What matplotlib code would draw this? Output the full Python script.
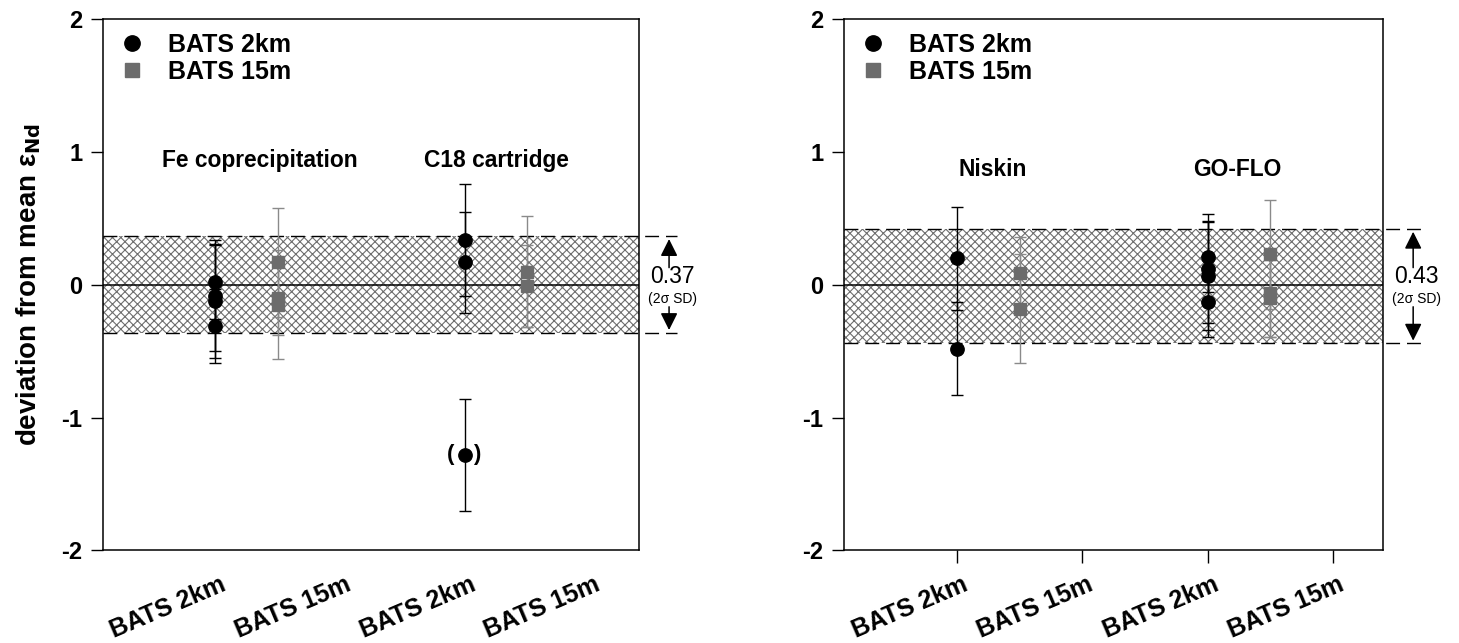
import numpy as np
import matplotlib
matplotlib.use("Agg")
import matplotlib.pyplot as plt
import matplotlib.transforms as mtransforms

plt.rcParams['font.family'] = ['Liberation Sans', 'DejaVu Sans']
plt.rcParams['hatch.linewidth'] = 0.8

# === données ===
tick_labels = ['BATS 2km', 'BATS 15m', 'BATS 2km', 'BATS 15m']
tick_pos = [1, 2, 3, 4]

# panneau gauche : méthode de préconcentration
left_methods = ['Fe coprecipitation', 'C18 cartridge']
fe_2km = [0.02, -0.08, -0.12, -0.31]
fe_2km_err = [0.28, 0.42, 0.43, 0.28]
fe_15m = [0.17, -0.10, -0.15]
fe_15m_err = [0.41, 0.28, 0.41]
c18_2km = [0.34, 0.17, -1.28]
c18_2km_err = [0.42, 0.38, 0.42]
c18_15m = [0.10, -0.01]
c18_15m_err = [0.42, 0.31]
left_band = (-0.36, 0.365)
left_sd = '0.37'

# panneau droit : bouteille de prélèvement
right_methods = ['Niskin', 'GO-FLO']
nis_2km = [0.20, -0.48]
nis_2km_err = [0.39, 0.35]
nis_15m = [0.09, -0.18]
nis_15m_err = [0.27, 0.41]
go_2km = [0.21, 0.12, 0.07, -0.13]
go_2km_err = [0.26, 0.41, 0.41, 0.26]
go_15m = [0.23, -0.06, -0.10]
go_15m_err = [0.41, 0.33, 0.29]
right_band = (-0.44, 0.42)
right_sd = '0.43'

# position des groupes sur l'axe x
x_2km = [1, 3]
x_15m = [1.5, 3.5]

BLACK = 'black'
GREY_PT = '#6c6c6c'
GREY_ERR = '#8a8a8a'

fig = plt.figure(figsize=(14.59, 6.43), dpi=100)
ax1 = fig.add_axes([0.0706, 0.1439, 0.3674, 0.8261])
ax2 = fig.add_axes([0.5785, 0.1439, 0.3694, 0.8261])


def draw_panel(ax, groups_2km, groups_15m, band, sd, xticks_visible):
    ax.set_xlim(0.1, 4.4)
    ax.set_ylim(-2, 2)

    # bande hachurée (2 sigma)
    ax.axhspan(band[0], band[1], facecolor='white', edgecolor='#6e6e6e',
               hatch='xxxx', linewidth=0, zorder=0)
    trans = mtransforms.blended_transform_factory(ax.transAxes, ax.transData)
    for yb in band:
        ax.plot([0, 1.07], [yb, yb], color=BLACK, lw=1.0, ls=(0, (10, 5)),
                transform=trans, clip_on=False, zorder=1)
    ax.axhline(0, color=BLACK, lw=1.1, zorder=1)

    # points + barres d'erreur
    first = True
    for xg, (vals, errs) in zip(x_2km, groups_2km):
        xs = np.full(len(vals), xg, dtype=float)
        ax.errorbar(xs, vals, yerr=errs, fmt='none', ecolor=BLACK,
                    elinewidth=1.0, capsize=4, capthick=1.0, zorder=3)
        ax.plot(xs, vals, 'o', color=BLACK, ms=9.6, zorder=4,
                label='BATS 2km' if first else None)
        first = False
    first = True
    for xg, (vals, errs) in zip(x_15m, groups_15m):
        xs = np.full(len(vals), xg, dtype=float)
        ax.errorbar(xs, vals, yerr=errs, fmt='none', ecolor=GREY_ERR,
                    elinewidth=1.0, capsize=4, capthick=1.0, zorder=3)
        ax.plot(xs, vals, 's', color=GREY_PT, ms=8.8, zorder=4,
                label='BATS 15m' if first else None)
        first = False

    # légende
    ax.legend(loc='upper left', bbox_to_anchor=(0.031, 0.975),
              frameon=False, borderpad=0, borderaxespad=0,
              handlelength=1.0, handletextpad=0.95, labelspacing=0.12,
              markerscale=1.15, prop={'size': 18, 'weight': 'bold'})

    # flèches + écart-type
    arrow = dict(arrowstyle='-|>', color=BLACK, lw=1.1,
                 mutation_scale=26, shrinkA=0, shrinkB=0)
    ax.annotate('', xy=(1.056, band[1] - 0.02), xytext=(1.056, 0.13),
                xycoords=trans, textcoords=trans, arrowprops=arrow)
    ax.annotate('', xy=(1.056, band[0] + 0.02), xytext=(1.056, -0.165),
                xycoords=trans, textcoords=trans, arrowprops=arrow)
    ax.text(1.062, 0.064, sd, transform=trans, ha='center', va='center',
            fontsize=16.5)
    ax.text(1.062, -0.11, '(2σ SD)', transform=trans, ha='center',
            va='center', fontsize=10)

    # axes
    ax.set_yticks([-2, -1, 0, 1, 2])
    ax.set_yticklabels(['-2', '-1', '0', '1', '2'])
    ax.tick_params(axis='y', direction='out', length=9, width=1.0, pad=6,
                   labelsize=17)
    for lbl in ax.get_yticklabels():
        lbl.set_fontweight('bold')
    ax.set_xticks(tick_pos)
    ax.set_xticklabels([])
    ax.tick_params(axis='x', direction='out',
                   length=9 if xticks_visible else 0, width=1.0)
    for sp in ax.spines.values():
        sp.set_linewidth(1.1)

    # étiquettes x inclinées
    offs = mtransforms.ScaledTranslation(0.05, -0.215, fig.dpi_scale_trans)
    xtr = mtransforms.blended_transform_factory(ax.transData, ax.transAxes) + offs
    for xp, lab in zip(tick_pos, tick_labels):
        ax.text(xp, 0, lab, transform=xtr, rotation=23, rotation_mode='anchor',
                ha='right', va='top', fontsize=18, fontweight='bold')


draw_panel(ax1, [(fe_2km, fe_2km_err), (c18_2km, c18_2km_err)],
           [(fe_15m, fe_15m_err), (c18_15m, c18_15m_err)],
           left_band, left_sd, False)
draw_panel(ax2, [(nis_2km, nis_2km_err), (go_2km, go_2km_err)],
           [(nis_15m, nis_15m_err), (go_15m, go_15m_err)],
           right_band, right_sd, True)

# noms des méthodes
ax1.text(1.36, 0.94, left_methods[0], ha='center', va='center',
         fontsize=16.4, fontweight='bold')
ax1.text(3.26, 0.94, left_methods[1], ha='center', va='center',
         fontsize=16.4, fontweight='bold')
ax2.text(1.29, 0.87, right_methods[0], ha='center', va='center',
         fontsize=16.4, fontweight='bold')
ax2.text(3.24, 0.87, right_methods[1], ha='center', va='center',
         fontsize=16.4, fontweight='bold')

# parenthèses autour du point douteux
ax1.annotate('(', xy=(x_2km[1], c18_2km[2]), xytext=(-10, 0),
             textcoords='offset points', ha='center', va='center',
             fontsize=16, fontweight='bold')
ax1.annotate(')', xy=(x_2km[1], c18_2km[2]), xytext=(9, 0),
             textcoords='offset points', ha='center', va='center',
             fontsize=16, fontweight='bold')

ax1.set_ylabel(r'deviation from mean ε$_{\mathbf{Nd}}$', fontsize=20,
               fontweight='bold')
ax1.yaxis.set_label_coords(-0.112, 0.5)

fig.savefig('out.png', dpi=100)
